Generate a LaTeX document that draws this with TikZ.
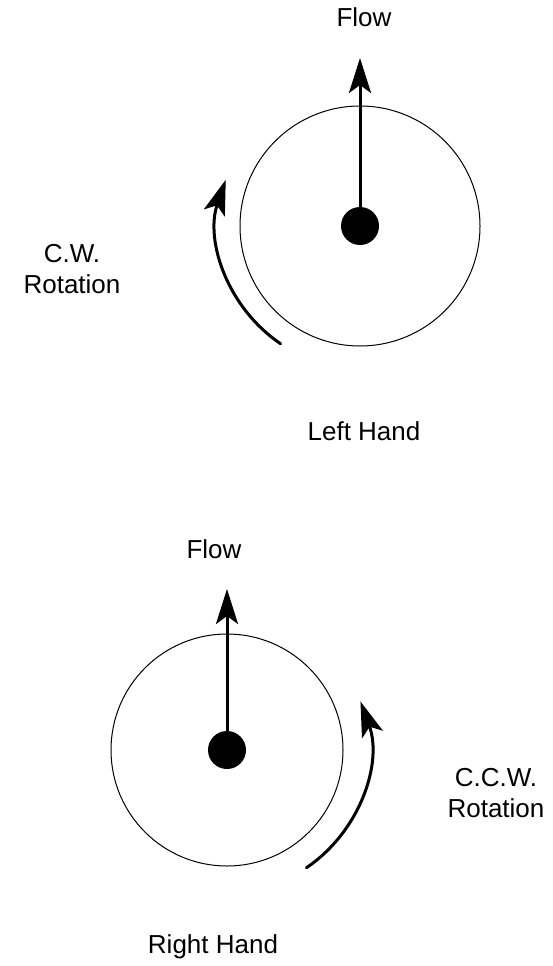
\documentclass[tikz,border=0pt]{standalone}
\usepackage{fontspec}
\setmainfont{Liberation Sans}
\usetikzlibrary{arrows.meta}
\begin{document}
\begin{tikzpicture}[x=1pt,y=-1pt,
  every node/.style={inner sep=0pt,font=\fontsize{26}{31}\selectfont},
  wheel/.style={circle,draw=black,line width=1pt,minimum size=#1},
  hub/.style={circle,fill=black,minimum size=38pt},
  flowarrow/.style={line width=3pt,-{Stealth[length=35pt,width=22pt,inset=8pt]}},
  turnarrow/.style={line width=3pt,line cap=round,-{Stealth[length=35pt,width=22pt,inset=8pt]}}]
\useasboundingbox (0,0) rectangle (552,966);
% left hand
\node[wheel=240pt] (wheelL) at (360,226) {};
\node[hub] (hubL) at (wheelL.center) {};
\coordinate (tipL) at (360,58);
\draw[flowarrow] (hubL.center) -- (tipL);
\node[anchor=base] (flowL) at (364,27) {Flow};
\draw[turnarrow] ([shift={(124:142)}]wheelL.center) arc[start angle=124,end angle=199,radius=142];
\node[align=center] (cwL) at (72,269) {C.W.\\Rotation};
\node[anchor=base] (handL) at (364,440) {Left Hand};
% right hand
\node[wheel=232pt] (wheelR) at (227,750) {};
\node[hub] (hubR) at (wheelR.center) {};
\coordinate (tipR) at (227,589);
\draw[flowarrow] (hubR.center) -- (tipR);
\node[anchor=base] (flowR) at (214,558) {Flow};
\draw[turnarrow] ([shift={(56:142)}]wheelR.center) arc[start angle=56,end angle=-20,radius=142];
\node[align=center] (ccwR) at (496,793) {C.C.W.\\Rotation};
\node[anchor=base] (handR) at (213,953) {Right Hand};
\end{tikzpicture}
\end{document}
